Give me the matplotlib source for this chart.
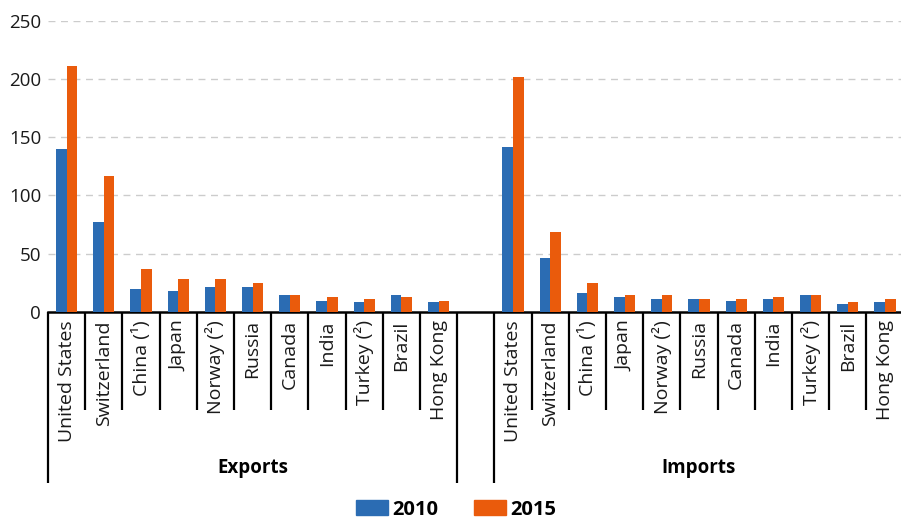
import numpy as np
import matplotlib
matplotlib.use("Agg")
import matplotlib.pyplot as plt
from matplotlib.patches import Patch

plt.rcParams['font.family'] = ['Open Sans', 'DejaVu Sans']

countries = ["United States", "Switzerland", "China (\u00b9)", "Japan", "Norway (\u00b2)",
             "Russia", "Canada", "India", "Turkey (\u00b2)", "Brazil", "Hong Kong"]
exports_2010 = [140, 77, 20, 18.3, 21.5, 21.5, 14.9, 9.7, 8.2, 14.9, 8.2]
exports_2015 = [211.5, 117, 36.5, 28.1, 28.1, 24.9, 14.9, 13.1, 11.4, 13.1, 9.7]
imports_2010 = [141.5, 46.5, 16.6, 13.1, 11.4, 11.4, 9.7, 11.4, 14.9, 6.5, 8.2]
imports_2015 = [201.6, 68.3, 24.9, 14.9, 14.9, 11.4, 11.4, 13.1, 14.9, 8.2, 11.4]
groups = ["Exports", "Imports"]
years = ["2010", "2015"]

blue = "#2b6cb3"
orange = "#ea5b0c"

fig = plt.figure(figsize=(9.01, 5.23), dpi=100)
ax = fig.add_axes([48 / 901, 1 - 312 / 523, 855.6 / 901, 291.3 / 523])

n = len(countries)
x_exp = np.arange(n)
x_imp = np.arange(n) + n + 1
w = 0.285

ax.bar(x_exp - w / 2, exports_2010, w, color=blue, zorder=3)
ax.bar(x_exp + w / 2, exports_2015, w, color=orange, zorder=3)
ax.bar(x_imp - w / 2, imports_2010, w, color=blue, zorder=3)
ax.bar(x_imp + w / 2, imports_2015, w, color=orange, zorder=3)

ax.set_xlim(-0.5, 2 * n + 0.5)
ax.set_ylim(0, 250)
ax.set_yticks(np.arange(0, 251, 50))
ax.tick_params(axis='y', length=0, pad=5, labelsize=13.5, colors='#1a1a1a')
ax.yaxis.grid(True, linestyle=(0, (5, 4)), color='#cccccc', linewidth=1)
ax.set_axisbelow(True)
ax.get_ygridlines()[0].set_visible(False)

ax.set_xticks(list(x_exp) + list(x_imp))
ax.set_xticklabels(countries + countries, rotation=90, va='top', ha='center')
ax.tick_params(axis='x', length=0, pad=6, labelsize=14, colors='#1a1a1a')

for s in ['top', 'right', 'left']:
    ax.spines[s].set_visible(False)
ax.spines['bottom'].set_linewidth(1.8)
ax.spines['bottom'].set_color('black')

trans = ax.get_xaxis_transform()
# separators between categories
for start in [0, n + 1]:
    for i in range(n + 1):
        xs = start + i - 0.5
        long = i == 0 or i == n
        ax.plot([xs, xs], [0, -0.587 if long else -0.336], color='black',
                lw=1.6, transform=trans, clip_on=False, solid_capstyle='butt')

# group labels
ax.text((n - 1) / 2, -0.535, groups[0], transform=trans, ha='center', va='center',
        fontsize=13.5, fontweight='bold')
ax.text(n + 1 + (n - 1) / 2, -0.535, groups[1], transform=trans, ha='center', va='center',
        fontsize=13.5, fontweight='bold')

handles = [Patch(color=blue, label=years[0]), Patch(color=orange, label=years[1])]
leg = fig.legend(handles=handles, loc='lower center', bbox_to_anchor=(456 / 901, -0.028),
                 ncol=2, frameon=False, handlelength=1.6, handleheight=0.75,
                 handletextpad=0.2, columnspacing=1.8, prop={'weight': 'bold', 'size': 14.5})

fig.savefig("out.png", dpi=100)
